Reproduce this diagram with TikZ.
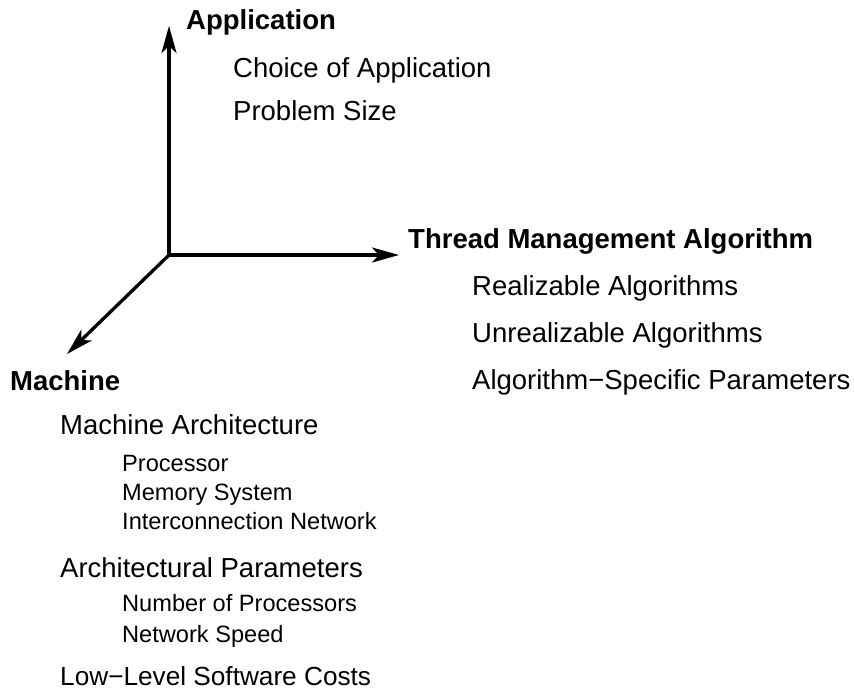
\documentclass[tikz,border=0pt]{standalone}
\usepackage{fontspec}
\setmainfont{Liberation Sans}
\usetikzlibrary{arrows.meta}
\begin{document}
\begin{tikzpicture}[x=1pt,y=-1pt,
  axis/.style={line width=3.3pt,-{Stealth[length=27pt,width=15pt,inset=7pt]}},
  head/.style={anchor=base west,inner sep=0pt,font=\fontsize{27.5}{30}\selectfont\bfseries},
  item/.style={anchor=base west,inner sep=0pt,font=\fontsize{27.5}{30}\selectfont},
  subitem/.style={anchor=base west,inner sep=0pt,font=\fontsize{23.6}{26}\selectfont}]
\useasboundingbox (0,0) rectangle (855,694);
% axes
\coordinate (o) at (169,255);
\coordinate (up) at (169,26);
\coordinate (right) at (399,255);
\coordinate (diag) at (67,354);
\draw[axis,line cap=rect] (o) -- (up);
\draw[axis] (o) -- (right);
\draw[axis] (o) -- (diag);
% application
\node[head] (app) at (186,29) {Application};
\node[item] (app1) at (233,77) {Choice of Application};
\node[item] (app2) at (233,120) {Problem Size};
% thread management
\node[head] (tma) at (408,248) {Thread Management Algorithm};
\node[item] (tma1) at (472,295) {Realizable Algorithms};
\node[item] (tma2) at (472,342) {Unrealizable Algorithms};
\node[item] (tma3) at (472,389) {Algorithm−Specific Parameters};
% machine
\node[head] (mach) at (10,390) {Machine};
\node[item] (m1) at (60,434) {Machine Architecture};
\node[subitem] (m11) at (122,471) {Processor};
\node[subitem] (m12) at (122,500) {Memory System};
\node[subitem] (m13) at (122,529) {Interconnection Network};
\node[item] (m2) at (60,577) {Architectural Parameters};
\node[subitem] (m21) at (122,611) {Number of Processors};
\node[subitem] (m22) at (122,642) {Network Speed};
\node[item,font=\fontsize{26.2}{29}\selectfont] (m3) at (60,685) {Low−Level Software Costs};
\end{tikzpicture}
\end{document}
